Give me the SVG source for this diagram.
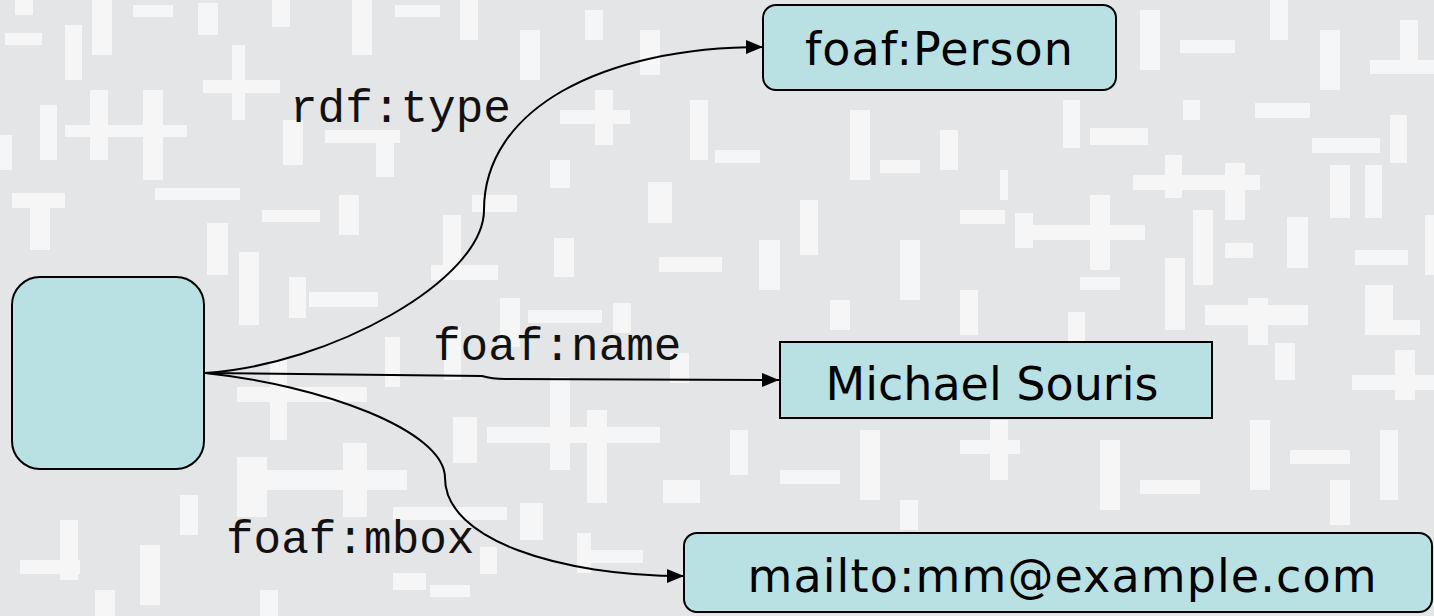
<svg xmlns="http://www.w3.org/2000/svg" width="1434" height="616" viewBox="0 0 1434 616">
  <defs>
    <style>
      .bg { fill: #e4e5e6; }
      .bar { fill: #f6f6f6; }
      .node { fill: #b9e0e3; stroke: #000; stroke-width: 2; }
      .node-label { font-family: "DejaVu Sans", Verdana, sans-serif; font-size: 46px; fill: #000; text-anchor: middle; }
      .edge { fill: none; stroke: #000; stroke-width: 2; }
      .edge-label { font-family: "Liberation Mono", "Courier New", monospace; font-size: 46px; fill: #111; }
    </style>
    <marker id="arrow" viewBox="0 0 17 14" refX="17" refY="7" markerWidth="17" markerHeight="14" markerUnits="userSpaceOnUse" orient="auto">
      <path d="M0,0 L17,7 L0,14 Z" fill="#000"/>
    </marker>
  </defs>

  <!-- textured backdrop: light grey with scattered pale bars and crosses -->
  <rect class="bg" x="0" y="0" width="1434" height="616"/>
  <g id="backdrop">
    <rect class="bar" x="15" y="0" width="18" height="15"/>
    <rect class="bar" x="133" y="5" width="40" height="12"/>
    <rect class="bar" x="92" y="0" width="20" height="55"/>
    <rect class="bar" x="198" y="3" width="20" height="32"/>
    <rect class="bar" x="272" y="0" width="18" height="27"/>
    <rect class="bar" x="5" y="33" width="37" height="12"/>
    <rect class="bar" x="65" y="25" width="17" height="55"/>
    <rect class="bar" x="352" y="0" width="20" height="55"/>
    <rect class="bar" x="232" y="45" width="13" height="75"/>
    <rect class="bar" x="203" y="80" width="77" height="13"/>
    <rect class="bar" x="40" y="105" width="17" height="55"/>
    <rect class="bar" x="0" y="135" width="12" height="35"/>
    <rect class="bar" x="65" y="125" width="122" height="12"/>
    <rect class="bar" x="90" y="90" width="18" height="70"/>
    <rect class="bar" x="143" y="90" width="20" height="90"/>
    <rect class="bar" x="283" y="120" width="20" height="45"/>
    <rect class="bar" x="325" y="130" width="75" height="13"/>
    <rect class="bar" x="155" y="188" width="85" height="12"/>
    <rect class="bar" x="12" y="193" width="53" height="15"/>
    <rect class="bar" x="30" y="193" width="20" height="57"/>
    <rect class="bar" x="262" y="210" width="58" height="12"/>
    <rect class="bar" x="339" y="195" width="20" height="40"/>
    <rect class="bar" x="207" y="223" width="21" height="52"/>
    <rect class="bar" x="239" y="252" width="20" height="73"/>
    <rect class="bar" x="289" y="277" width="17" height="41"/>
    <rect class="bar" x="309" y="292" width="69" height="15"/>
    <rect class="bar" x="376" y="140" width="18" height="37"/>
    <rect class="bar" x="443" y="215" width="18" height="52"/>
    <rect class="bar" x="431" y="265" width="67" height="15"/>
    <rect class="bar" x="472" y="195" width="45" height="17"/>
    <rect class="bar" x="550" y="160" width="20" height="28"/>
    <rect class="bar" x="648" y="182" width="24" height="41"/>
    <rect class="bar" x="554" y="238" width="20" height="39"/>
    <rect class="bar" x="500" y="298" width="20" height="49"/>
    <rect class="bar" x="528" y="310" width="74" height="13"/>
    <rect class="bar" x="613" y="303" width="18" height="30"/>
    <rect class="bar" x="659" y="257" width="63" height="15"/>
    <rect class="bar" x="759" y="240" width="21" height="50"/>
    <rect class="bar" x="385" y="337" width="15" height="50"/>
    <rect class="bar" x="444" y="327" width="17" height="53"/>
    <rect class="bar" x="670" y="353" width="19" height="30"/>
    <rect class="bar" x="237" y="387" width="130" height="15"/>
    <rect class="bar" x="270" y="360" width="17" height="80"/>
    <rect class="bar" x="237" y="457" width="30" height="60"/>
    <rect class="bar" x="237" y="470" width="170" height="20"/>
    <rect class="bar" x="343" y="443" width="24" height="74"/>
    <rect class="bar" x="487" y="427" width="173" height="16"/>
    <rect class="bar" x="550" y="377" width="20" height="93"/>
    <rect class="bar" x="587" y="410" width="20" height="93"/>
    <rect class="bar" x="453" y="417" width="24" height="46"/>
    <rect class="bar" x="393" y="507" width="114" height="13"/>
    <rect class="bar" x="520" y="503" width="23" height="37"/>
    <rect class="bar" x="577" y="533" width="14" height="40"/>
    <rect class="bar" x="583" y="550" width="60" height="13"/>
    <rect class="bar" x="480" y="547" width="17" height="27"/>
    <rect class="bar" x="393" y="573" width="33" height="17"/>
    <rect class="bar" x="663" y="480" width="37" height="23"/>
    <rect class="bar" x="60" y="520" width="18" height="60"/>
    <rect class="bar" x="20" y="560" width="60" height="14"/>
    <rect class="bar" x="140" y="545" width="20" height="60"/>
    <rect class="bar" x="95" y="590" width="20" height="26"/>
    <rect class="bar" x="260" y="590" width="18" height="26"/>
    <rect class="bar" x="430" y="585" width="40" height="12"/>
    <rect class="bar" x="180" y="495" width="18" height="40"/>
    <!-- upper middle -->
    <rect class="bar" x="395" y="5" width="45" height="12"/>
    <rect class="bar" x="460" y="0" width="18" height="40"/>
    <rect class="bar" x="520" y="30" width="20" height="50"/>
    <rect class="bar" x="585" y="10" width="18" height="30"/>
    <rect class="bar" x="560" y="110" width="70" height="14"/>
    <rect class="bar" x="595" y="90" width="18" height="55"/>
    <rect class="bar" x="640" y="30" width="20" height="45"/>
    <rect class="bar" x="690" y="100" width="18" height="60"/>
    <rect class="bar" x="715" y="150" width="45" height="13"/>
    <rect class="bar" x="850" y="110" width="20" height="70"/>
    <rect class="bar" x="880" y="160" width="40" height="13"/>
    <rect class="bar" x="800" y="200" width="18" height="55"/>
    <rect class="bar" x="900" y="240" width="20" height="60"/>
    <rect class="bar" x="940" y="130" width="18" height="40"/>
    <rect class="bar" x="960" y="210" width="45" height="14"/>
    <rect class="bar" x="830" y="300" width="20" height="30"/>
    <rect class="bar" x="960" y="290" width="18" height="45"/>
    <rect class="bar" x="1140" y="10" width="20" height="60"/>
    <rect class="bar" x="1180" y="40" width="55" height="13"/>
    <rect class="bar" x="1270" y="0" width="18" height="40"/>
    <rect class="bar" x="1320" y="30" width="20" height="60"/>
    <rect class="bar" x="1370" y="60" width="64" height="14"/>
    <rect class="bar" x="1400" y="20" width="18" height="40"/>
    <!-- right side -->
    <rect class="bar" x="1063" y="100" width="17" height="48"/>
    <rect class="bar" x="1090" y="128" width="58" height="17"/>
    <rect class="bar" x="1183" y="100" width="17" height="20"/>
    <rect class="bar" x="1255" y="103" width="55" height="15"/>
    <rect class="bar" x="1312" y="138" width="68" height="15"/>
    <rect class="bar" x="1390" y="115" width="17" height="48"/>
    <rect class="bar" x="1133" y="175" width="127" height="15"/>
    <rect class="bar" x="1165" y="155" width="17" height="43"/>
    <rect class="bar" x="1225" y="163" width="20" height="57"/>
    <rect class="bar" x="1330" y="165" width="20" height="53"/>
    <rect class="bar" x="1365" y="165" width="17" height="53"/>
    <rect class="bar" x="1033" y="225" width="112" height="15"/>
    <rect class="bar" x="1090" y="195" width="20" height="75"/>
    <rect class="bar" x="1015" y="213" width="18" height="35"/>
    <rect class="bar" x="1193" y="210" width="20" height="75"/>
    <rect class="bar" x="1225" y="243" width="28" height="15"/>
    <rect class="bar" x="1287" y="217" width="21" height="51"/>
    <rect class="bar" x="1355" y="250" width="53" height="15"/>
    <rect class="bar" x="1165" y="258" width="20" height="72"/>
    <rect class="bar" x="1425" y="215" width="9" height="60"/>
    <rect class="bar" x="1080" y="277" width="40" height="13"/>
    <rect class="bar" x="1205" y="305" width="103" height="20"/>
    <rect class="bar" x="1248" y="298" width="20" height="47"/>
    <rect class="bar" x="1365" y="285" width="28" height="50"/>
    <rect class="bar" x="1385" y="320" width="35" height="15"/>
    <rect class="bar" x="1275" y="343" width="20" height="37"/>
    <rect class="bar" x="1068" y="312" width="17" height="33"/>
    <rect class="bar" x="1352" y="375" width="82" height="15"/>
    <rect class="bar" x="1395" y="350" width="20" height="50"/>
    <rect class="bar" x="1000" y="170" width="8" height="30"/>
    <rect class="bar" x="1250" y="420" width="20" height="70"/>
    <rect class="bar" x="1290" y="450" width="60" height="14"/>
    <rect class="bar" x="1330" y="480" width="20" height="45"/>
    <rect class="bar" x="1380" y="430" width="18" height="70"/>
    <rect class="bar" x="1100" y="440" width="20" height="70"/>
    <rect class="bar" x="1140" y="480" width="60" height="14"/>
    <rect class="bar" x="960" y="440" width="60" height="14"/>
    <rect class="bar" x="990" y="420" width="18" height="60"/>
    <rect class="bar" x="860" y="430" width="20" height="70"/>
    <rect class="bar" x="780" y="470" width="60" height="14"/>
    <rect class="bar" x="730" y="430" width="18" height="45"/>
    <rect class="bar" x="900" y="500" width="18" height="30"/>
  </g>

  <!-- connectors -->
  <g id="connectors">
    <path id="edge-type" class="edge" marker-end="url(#arrow)" d="M205,373 C330,365 484,280 484,210 C484,110 600,47 763,47"/>
    <path id="edge-name" class="edge" marker-end="url(#arrow)" d="M205,373 L482,376 Q492,379 505,379 L779,380"/>
    <path id="edge-mbox" class="edge" marker-end="url(#arrow)" d="M205,373 C320,385 445,430 445,478 C445,540 560,576 684,576"/>
    <text class="edge-label" x="290" y="122">rdf:type</text>
    <text class="edge-label" x="433" y="360">foaf:name</text>
    <text class="edge-label" x="226" y="553">foaf:mbox</text>
  </g>

  <!-- nodes -->
  <g id="node-subject">
    <rect class="node" x="12" y="277" width="192" height="192" rx="28" ry="28"/>
  </g>
  <g id="node-person">
    <rect class="node" x="763" y="5" width="353" height="85" rx="13" ry="13"/>
    <text class="node-label" x="939" y="65" textLength="268" lengthAdjust="spacing">foaf:Person</text>
  </g>
  <g id="node-name">
    <rect class="node" x="780" y="342" width="432" height="76"/>
    <text class="node-label" x="992" y="400" textLength="333" lengthAdjust="spacing">Michael Souris</text>
  </g>
  <g id="node-mbox">
    <rect class="node" x="684" y="533" width="748" height="79" rx="13" ry="13"/>
    <text class="node-label" x="1062" y="592" textLength="629" lengthAdjust="spacing">mailto:mm@example.com</text>
  </g>
</svg>
